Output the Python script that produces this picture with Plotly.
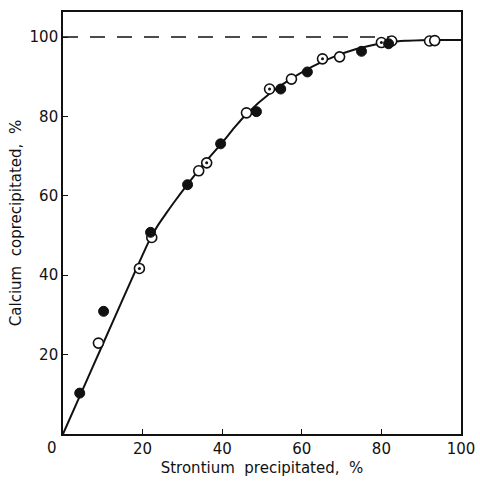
import plotly.graph_objects as go

# Measured points, grouped by marker style
filled_x = [4.2, 10.2, 22.0, 31.3, 39.6, 48.6, 54.7, 61.4, 75.0, 81.8]
filled_y = [10.3, 30.9, 50.8, 62.8, 73.1, 81.2, 86.9, 91.2, 96.4, 98.3]

open_x = [8.9, 22.3, 34.1, 46.1, 57.4, 69.5, 82.6, 92.1, 93.4]
open_y = [22.9, 49.5, 66.3, 80.9, 89.4, 95.0, 99.0, 99.0, 99.1]

dotted_x = [19.2, 36.1, 51.9, 65.2, 80.0]
dotted_y = [41.7, 68.3, 86.9, 94.5, 98.6]

# Smooth fitted curve
curve_x = [0, 5, 10, 15, 20, 22, 24, 26, 28, 31, 35, 40, 43, 46, 52.5, 57.5,
           62.5, 68, 73.5, 78.5, 82, 86, 90, 95, 100]
curve_y = [0, 11.3, 22.6, 33.9, 45.1, 49.4, 52.8, 55.7, 58.5, 62.5, 67.6, 73.4,
           77.1, 80.5, 86.2, 89.6, 92.5, 95.0, 96.9, 98.1, 98.7, 99.05, 99.2,
           99.25, 99.25]

# 100 % reference level
ref_x = [0, 82]
ref_y = [100, 100]

x_ticks = [20, 40, 60, 80, 100]
y_ticks = [20, 40, 60, 80, 100]

FONT = "DejaVu Sans"
INK = "#111111"

fig = go.Figure()

fig.add_trace(go.Scatter(
    x=ref_x, y=ref_y, mode="lines",
    line=dict(color=INK, width=1.6, dash="15px,12px"),
    hoverinfo="skip", showlegend=False,
))
fig.add_trace(go.Scatter(
    x=curve_x, y=curve_y, mode="lines",
    line=dict(color=INK, width=2, shape="spline", smoothing=0.7),
    showlegend=False,
))
fig.add_trace(go.Scatter(
    x=open_x, y=open_y, mode="markers",
    marker=dict(symbol="circle", size=10, color="white", line=dict(color=INK, width=1.6)),
    showlegend=False,
))
fig.add_trace(go.Scatter(
    x=dotted_x, y=dotted_y, mode="markers",
    marker=dict(symbol="circle", size=10, color="white", line=dict(color=INK, width=1.6)),
    showlegend=False,
))
fig.add_trace(go.Scatter(
    x=dotted_x, y=dotted_y, mode="markers",
    marker=dict(symbol="circle", size=3, color=INK, line=dict(width=0)),
    showlegend=False,
))
fig.add_trace(go.Scatter(
    x=filled_x, y=filled_y, mode="markers",
    marker=dict(symbol="circle", size=10, color=INK, line=dict(color=INK, width=1)),
    showlegend=False,
))

fig.update_xaxes(
    range=[0, 100], tickvals=x_ticks, ticks="inside", ticklen=5, tickwidth=1.3,
    tickcolor=INK, showline=True, linecolor=INK, linewidth=1.6, mirror=True,
    showgrid=False, zeroline=False, automargin=False,
    tickfont=dict(family=FONT, size=15, color=INK),
    title=dict(text="Strontium\u00a0\u00a0precipitated,\u00a0\u00a0%",
               font=dict(family=FONT, size=15, color=INK), standoff=6),
)
fig.update_yaxes(
    range=[0, 106.3], tickvals=y_ticks, ticks="inside", ticklen=5, tickwidth=1.3,
    tickcolor=INK, showline=True, linecolor=INK, linewidth=1.6, mirror=True,
    showgrid=False, zeroline=False, automargin=False,
    tickfont=dict(family=FONT, size=15, color=INK),
    title=dict(text="Calcium\u00a0\u00a0coprecipitated,\u00a0\u00a0%",
               font=dict(family=FONT, size=15, color=INK), standoff=4),
)

# shared origin label
fig.add_annotation(x=0, y=0, xref="x", yref="y", text="0", showarrow=False,
                   xshift=-11, yshift=-14, font=dict(family=FONT, size=15, color=INK))

fig.update_layout(
    width=480, height=484,
    margin=dict(l=63, r=19, t=12, b=50),
    paper_bgcolor="white", plot_bgcolor="white",
)

fig.write_html("out.html")
